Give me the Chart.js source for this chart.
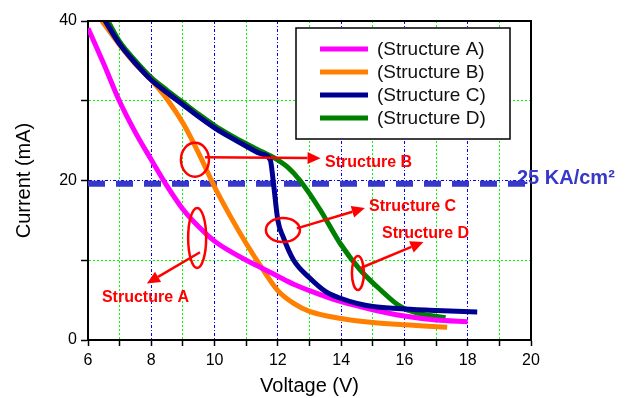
<!DOCTYPE html>
<html>
<head>
<meta charset="utf-8">
<title>Current vs Voltage</title>
<script src="https://cdn.jsdelivr.net/npm/chart.js"></script>
<style>
    html, body { margin: 0; padding: 0; background: #fff; }
    .chart-box { position: relative; width: 637px; height: 398px; }
</style>
</head>
<body>
<div class="chart-box"><canvas id="iv-chart"></canvas></div>
<script>
(function () {
    "use strict";

    // Values (voltage in V, current in mA)
    var voltageA = [6, 6.5, 7, 7.5, 8, 8.5, 9, 9.5, 10, 10.5, 11, 11.5, 12, 12.5, 13, 14, 15, 16, 17, 18];
    var currentA = [39.1, 34.6, 29.9, 26.0, 22.6, 19.3, 16.4, 14.2, 12.4, 11.1, 10.0, 9.0, 8.0, 7.0, 6.2, 4.8, 3.8, 3.0, 2.5, 2.3];

    var voltageB = [6.44, 7, 7.5, 8, 8.5, 9, 9.5, 10, 10.5, 11, 11.5, 12, 12.5, 13, 14, 15, 16, 17.35];
    var currentB = [40, 37.0, 34.6, 32.6, 30.2, 27.2, 23.4, 19.2, 15.5, 12.1, 9.0, 6.2, 4.6, 3.6, 2.7, 2.2, 1.9, 1.6];

    var voltageC = [6.54, 7, 7.5, 8, 8.5, 9, 9.5, 10, 10.5, 11, 11.5, 11.76, 11.86, 12.0, 12.17, 12.5, 13, 13.5, 14, 14.5, 15, 16, 17, 18.3];
    var currentC = [40, 37.1, 34.7, 32.6, 31.0, 29.5, 28.0, 26.6, 25.4, 24.3, 23.3, 22.6, 19.7, 15.0, 12.9, 10.0, 7.8, 6.1, 5.2, 4.6, 4.2, 3.9, 3.7, 3.5];

    var voltageD = [6.63, 7, 7.5, 8, 8.5, 9, 9.5, 10, 10.5, 11, 11.5, 11.86, 12.3, 12.7, 13.34, 13.97, 14.6, 15.24, 15.87, 16.5, 17.3];
    var currentD = [40, 37.4, 35.0, 32.9, 31.3, 29.8, 28.3, 26.9, 25.7, 24.6, 23.6, 22.9, 21.7, 20.0, 16.3, 12.1, 8.8, 6.3, 4.2, 3.3, 2.8];

    var limitCurrent = 19.6;          // 25 KA/cm2 level
    var limitLabel = "25 KA/cm²";

    // Tick labels
    var xLabelValues = [6, 8, 10, 12, 14, 16, 18, 20];
    var yLabelValues = [0, 20, 40];

    // Red call-outs (data units)
    var callouts = [
        { text: "Structure A", ring: [9.45, 12.8], rx: 9, ry: 30, from: [9.54, 11.0], to: [7.86, 7.1], at: [6.44, 5.3] },
        { text: "Structure B", ring: [9.38, 22.6], rx: 14, ry: 17, from: [9.7, 22.9], to: [13.35, 22.8], at: [13.49, 22.2] },
        { text: "Structure C", ring: [12.16, 13.8], rx: 17, ry: 12, from: [12.6, 14.0], to: [14.75, 16.55], at: [14.88, 16.7] },
        { text: "Structure D", ring: [14.53, 8.4], rx: 6, ry: 17, from: [14.6, 9.0], to: [16.6, 12.3], at: [15.29, 13.4] }
    ];

    var FONT = "Arial, 'Liberation Sans', sans-serif";

    function toPoints(xs, ys) {
        return xs.map(function (x, i) { return { x: x, y: ys[i] }; });
    }

    function curve(label, xs, ys, color, order) {
        return {
            label: label,
            data: toPoints(xs, ys),
            borderColor: color,
            backgroundColor: color,
            borderWidth: 5,
            pointRadius: 0,
            showLine: true,
            cubicInterpolationMode: "monotone",
            order: order
        };
    }

    function arrow(ctx, x1, y1, x2, y2) {
        var a = Math.atan2(y2 - y1, x2 - x1);
        var hl = 13, hw = 6;
        var bx = x2 - hl * Math.cos(a), by = y2 - hl * Math.sin(a);
        ctx.beginPath();
        ctx.moveTo(x1, y1);
        ctx.lineTo(bx, by);
        ctx.stroke();
        ctx.beginPath();
        ctx.moveTo(x2, y2);
        ctx.lineTo(bx + hw * Math.sin(a), by - hw * Math.cos(a));
        ctx.lineTo(bx - hw * Math.sin(a), by + hw * Math.cos(a));
        ctx.closePath();
        ctx.fill();
    }

    function gridColor(v, isMajor) {
        return isMajor ? "#0000ff" : "#00ff00";
    }

    // Frame, call-outs, boxed legend and the limit label
    var overlay = {
        id: "overlay",
        afterDatasetsDraw: function (chart) {
            var ctx = chart.ctx, area = chart.chartArea;
            var xs = chart.scales.x, ys = chart.scales.y;
            ctx.save();

            ctx.strokeStyle = "#000";
            ctx.lineWidth = 2;
            ctx.beginPath();
            ctx.moveTo(area.left, area.top);
            ctx.lineTo(area.right, area.top);
            ctx.lineTo(area.right, area.bottom);
            ctx.stroke();

            ctx.strokeStyle = "#ff0000";
            ctx.fillStyle = "#ff0000";
            ctx.lineWidth = 2.5;
            ctx.font = "bold 16px " + FONT;
            ctx.textAlign = "left";
            ctx.textBaseline = "middle";
            callouts.forEach(function (c) {
                ctx.beginPath();
                ctx.ellipse(xs.getPixelForValue(c.ring[0]), ys.getPixelForValue(c.ring[1]), c.rx, c.ry, 0, 0, 2 * Math.PI);
                ctx.stroke();
                arrow(ctx, xs.getPixelForValue(c.from[0]), ys.getPixelForValue(c.from[1]),
                    xs.getPixelForValue(c.to[0]), ys.getPixelForValue(c.to[1]));
                ctx.fillText(c.text, xs.getPixelForValue(c.at[0]), ys.getPixelForValue(c.at[1]));
            });

            // legend box (first four datasets are the structures)
            var bx = area.right - 235, by = area.top + 7, bw = 214, bh = 111;
            ctx.fillStyle = "#fff";
            ctx.fillRect(bx, by, bw, bh);
            ctx.strokeStyle = "#000";
            ctx.lineWidth = 1.5;
            ctx.strokeRect(bx, by, bw, bh);
            ctx.font = "19px " + FONT;
            chart.data.datasets.slice(0, 4).forEach(function (ds, i) {
                var ly = by + 21 + i * 23;
                ctx.strokeStyle = ds.borderColor;
                ctx.lineWidth = 5;
                ctx.beginPath();
                ctx.moveTo(bx + 24, ly);
                ctx.lineTo(bx + 72, ly);
                ctx.stroke();
                ctx.fillStyle = "#111";
                ctx.fillText(ds.label, bx + 81, ly + 1);
            });

            ctx.fillStyle = "#3838c8";
            ctx.font = "bold 20px " + FONT;
            ctx.fillText(limitLabel, area.right - 14, ys.getPixelForValue(limitCurrent) - 5);
            ctx.restore();
        }
    };

    var ctx1 = document.getElementById("iv-chart").getContext("2d");
    var ivChart = new Chart(ctx1, {
        type: "scatter",
        data: {
            datasets: [
                curve("(Structure A)", voltageA, currentA, "#ff00ff", 2),
                curve("(Structure B)", voltageB, currentB, "#ff8000", 3),
                curve("(Structure C)", voltageC, currentC, "#000090", 1),
                curve("(Structure D)", voltageD, currentD, "#008000", 4),
                {
                    label: limitLabel,
                    data: [{ x: 6, y: limitCurrent }, { x: 20, y: limitCurrent }],
                    borderColor: "#3838c8",
                    borderWidth: 6,
                    borderDash: [17, 11],
                    pointRadius: 0,
                    showLine: true,
                    order: 5
                }
            ]
        },
        options: {
            responsive: true,
            maintainAspectRatio: false,
            animation: false,
            layout: { padding: { top: 21, right: 106, left: 0, bottom: 0 } },
            plugins: {
                legend: { display: false },
                tooltip: { enabled: false }
            },
            scales: {
                x: {
                    type: "linear",
                    min: 6,
                    max: 20,
                    afterFit: function (scale) { scale.height = 58; },
                    ticks: {
                        stepSize: 1,
                        color: "#000",
                        font: { family: FONT, size: 16 },
                        padding: 5,
                        maxRotation: 0,
                        autoSkip: false,
                        callback: function (v) { return xLabelValues.indexOf(v) >= 0 ? v : ""; }
                    },
                    grid: {
                        tickLength: 6,
                        tickColor: "#000",
                        tickWidth: 1.5,
                        lineWidth: 1,
                        color: function (c) {
                            var v = c.tick ? Math.round(c.tick.value) : 0;
                            if (v === 6 || v === 20) return "rgba(0,0,0,0)";
                            return gridColor(v, v % 2 === 0);
                        }
                    },
                    border: {
                        color: "#000",
                        width: 2,
                        dash: function (c) {
                            var v = c.tick ? Math.round(c.tick.value) : 0;
                            return v % 2 === 0 ? [3, 2, 1, 2] : [2, 2];
                        }
                    },
                    title: {
                        display: true,
                        text: "Voltage (V)",
                        color: "#000",
                        font: { family: FONT, size: 20 },
                        padding: { top: 0, bottom: 0 }
                    }
                },
                y: {
                    type: "linear",
                    min: 0,
                    max: 40,
                    afterFit: function (scale) { scale.width = 88; },
                    ticks: {
                        stepSize: 10,
                        color: "#000",
                        font: { family: FONT, size: 16 },
                        padding: 4,
                        callback: function (v) { return yLabelValues.indexOf(v) >= 0 ? v : ""; }
                    },
                    grid: {
                        tickLength: 7,
                        tickColor: "#000",
                        tickWidth: 1.5,
                        lineWidth: 1,
                        color: function (c) {
                            var v = c.tick ? Math.round(c.tick.value) : 0;
                            if (v === 0 || v === 40) return "rgba(0,0,0,0)";
                            return gridColor(v, v === 20);
                        }
                    },
                    border: {
                        color: "#000",
                        width: 2,
                        dash: function (c) {
                            var v = c.tick ? Math.round(c.tick.value) : 0;
                            return v === 20 ? [3, 2, 1, 2] : [2, 2];
                        }
                    },
                    title: {
                        display: true,
                        text: "Current (mA)",
                        color: "#000",
                        font: { family: FONT, size: 20 },
                        padding: { top: 12, bottom: 0 }
                    }
                }
            }
        },
        plugins: [overlay]
    });
})();
</script>
</body>
</html>
